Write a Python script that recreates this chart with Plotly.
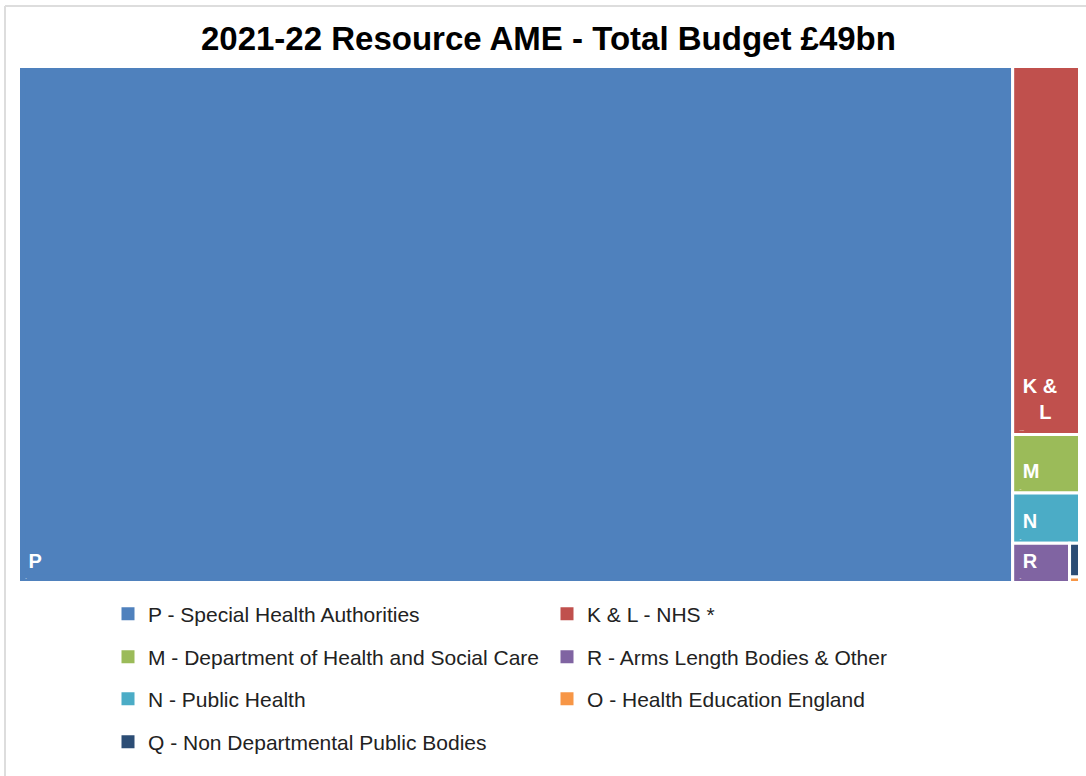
import plotly.graph_objects as go

W, H = 1086, 776

# Resource AME budget split (£bn), total ~£49bn
codes = ["P", "K & L", "M", "N", "R", "Q", "O"]
names = [
    "Special Health Authorities",
    "NHS *",
    "Department of Health and Social Care",
    "Public Health",
    "Arms Length Bodies & Other",
    "Non Departmental Public Bodies",
    "Health Education England",
]
values_bn = [45.9, 2.2, 0.35, 0.30, 0.20, 0.03, 0.005]
colors = ["#4F81BD", "#C0504D", "#9BBB59", "#4BACC6", "#8064A2", "#2C4D75", "#F79646"]
box_text = ["<b>P</b>", "<b>K &amp;</b><br><b>\u00a0\u00a0\u00a0L</b>", "<b>M</b>", "<b>N</b>",
            "<b>R</b>", None, None]
labelled = [True, True, True, True, True, False, False]

FONT = "Liberation Sans, Arial, sans-serif"
PAD = dict(t=2, l=7, r=2, b=8)


def px_x(p):
    return p / W


def px_y(p):
    return 1 - p / H


# Build the hierarchy: a white root, one tile per budget line, and an inner
# same-coloured tile carrying the label so it sits inset from the tile edge.
ids, labels, parents, vals, cols, lw, texts = ["root"], ["root"], [""], [0], ["white"], [0], [None]
for i, (code, v, c, t, lab) in enumerate(zip(codes, values_bn, colors, box_text, labelled)):
    gid = f"g{i}"
    if lab:
        ids += [gid, f"l{i}"]
        labels += [code, code]
        parents += ["root", gid]
        vals += [0, v]
        cols += [c, c]
        lw += [3, 0]
        texts += [None, t]
    else:
        ids.append(gid)
        labels.append(code)
        parents.append("root")
        vals.append(v)
        cols.append(c)
        lw.append(3)
        texts.append(None)

fig = go.Figure()

fig.add_trace(go.Treemap(
    ids=ids,
    labels=labels,
    parents=parents,
    values=vals,
    branchvalues="remainder",
    text=texts,
    textinfo="text",
    textposition="bottom left",
    textfont=dict(family=FONT, size=20, color="white"),
    marker=dict(colors=cols, line=dict(color="white", width=lw), pad=PAD),
    tiling=dict(packing="squarify", pad=0),
    pathbar=dict(visible=False),
    sort=True,
    hoverinfo="skip",
    domain=dict(x=[px_x(18.5 - PAD["l"]), px_x(1079.5 + PAD["r"])],
                y=[px_y(582.5 + PAD["b"]), px_y(66.5 - PAD["t"])]),
))

# Legend entries laid out two per row, one legend per row
legend_order = [0, 1, 2, 4, 3, 6, 5]
legend_rows = ["legend", "legend", "legend2", "legend2", "legend3", "legend3", "legend4"]
for idx, lg in zip(legend_order, legend_rows):
    fig.add_trace(go.Scatter(
        x=[None], y=[None], mode="markers",
        marker=dict(symbol="square", size=13, color=colors[idx]),
        name=f"{codes[idx]} - {names[idx]}",
        legend=lg, showlegend=True, hoverinfo="skip",
    ))

row_y = [614, 657, 699, 742]
legend_common = dict(
    orientation="h", entrywidth=394, entrywidthmode="pixels",
    font=dict(family=FONT, size=21, color="#222222"),
    bgcolor="rgba(0,0,0,0)", x=px_x(108), xanchor="left", yanchor="middle",
    itemclick=False, itemdoubleclick=False,
)

fig.update_layout(
    width=W, height=H,
    margin=dict(l=0, r=0, t=0, b=0),
    paper_bgcolor="white", plot_bgcolor="white",
    title=dict(text="<b>2021-22 Resource AME - Total Budget £49bn</b>",
               font=dict(family=FONT, size=33, color="black"),
               x=0.505, xanchor="center", y=px_y(38), yanchor="middle"),
    xaxis=dict(visible=False, domain=[0, 0.01]),
    yaxis=dict(visible=False, domain=[0, 0.01]),
    legend=dict(y=px_y(row_y[0]), **legend_common),
    legend2=dict(y=px_y(row_y[1]), **legend_common),
    legend3=dict(y=px_y(row_y[2]), **legend_common),
    legend4=dict(y=px_y(row_y[3]), **legend_common),
    shapes=[
        dict(type="line", xref="paper", yref="paper", x0=px_x(5), x1=1.0,
             y0=px_y(6), y1=px_y(6), line=dict(color="#DDDDDD", width=2)),
        dict(type="line", xref="paper", yref="paper", x0=px_x(5), x1=px_x(5),
             y0=0, y1=px_y(6), line=dict(color="#DDDDDD", width=2)),
    ],
)

fig.write_html("out.html")
